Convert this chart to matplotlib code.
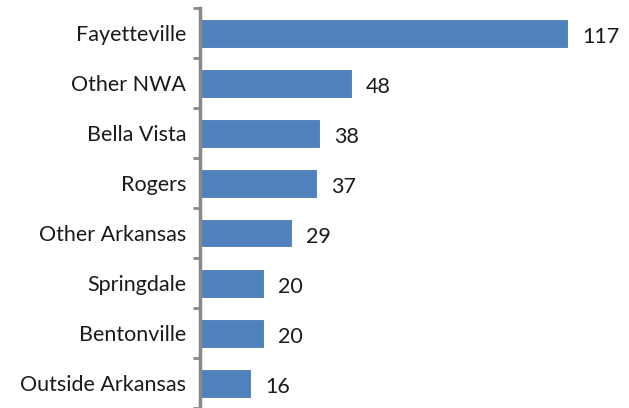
import matplotlib
matplotlib.use("Agg")
import matplotlib.pyplot as plt
import matplotlib.transforms as mtransforms

cities = ['Fayetteville', 'Other NWA', 'Bella Vista', 'Rogers', 'Other Arkansas',
          'Springdale', 'Bentonville', 'Outside Arkansas']
counts = [117, 48, 38, 37, 29, 20, 20, 16]

plt.rcParams['font.family'] = ['Lato', 'DejaVu Sans']

fig = plt.figure(figsize=(6.29, 4.08), dpi=100)
ax = fig.add_axes([200 / 629, 0, 423.5 / 629, 400 / 408])

pos = list(range(len(cities)))
ax.barh(pos, counts, height=0.54, color='#4F81BD', edgecolor='#4A7AB5', linewidth=0.6)
ax.set_ylim(len(cities) - 0.5, -0.5)
ax.set_xlim(0, 135)

for p, v in zip(pos, counts):
    ax.annotate(str(v), (v, p), xytext=(11, -3), textcoords='offset points',
                va='center', ha='left', fontsize=15.5, color='#1a1a1a')

ax.set_yticks(pos)
ax.set_yticklabels(cities, fontsize=15.5, color='#1a1a1a')
# nudge category labels slightly down like the original
shift = mtransforms.ScaledTranslation(-2 / 72, -2 / 72, fig.dpi_scale_trans)
for t in ax.get_yticklabels():
    t.set_transform(t.get_transform() + shift)
ax.tick_params(axis='y', length=0, pad=10)
ax.set_yticks([i - 0.5 for i in range(len(cities) + 1)], minor=True)
ax.tick_params(axis='y', which='minor', length=5, width=2, color='#898989')
ax.set_xticks([])

for s in ['top', 'right', 'bottom']:
    ax.spines[s].set_visible(False)
ax.spines['left'].set_color('#898989')
ax.spines['left'].set_linewidth(2.5)

fig.savefig('out.png', dpi=100)
